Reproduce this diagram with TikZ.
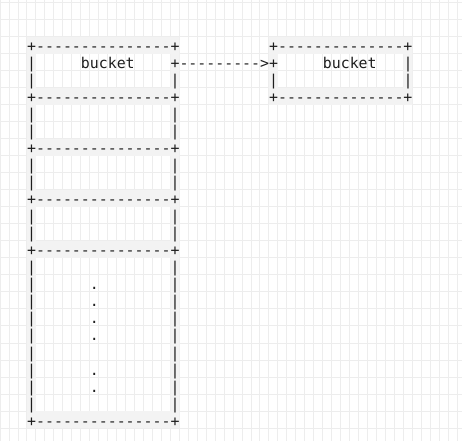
\documentclass[tikz,border=0pt]{standalone}
\usepackage{fontspec}
\newfontfamily\asciimono{DejaVu Sans Mono}
\definecolor{gridline}{HTML}{EDEDED}
\definecolor{cellfill}{HTML}{F3F3F3}
\definecolor{ink}{HTML}{1E1E1E}
\tikzset{
  ascii/.style={anchor=base west, inner sep=0pt, yshift=-15pt, text=ink,
    font=\asciimono\fontsize{14.88}{17}\selectfont},
}
\begin{document}
\begin{tikzpicture}[x=8.96pt, y=-17pt]
            \useasboundingbox (-3.013,-2.176) rectangle (48.549,23.765);
            % character grid
            \foreach \c in {-3,...,48}
              \draw[gridline, line width=1pt] (\c,-2.176) -- (\c,23.765);
            \foreach \r in {-2,...,23}
              \draw[gridline, line width=1pt] (-3.013,\r) -- (48.549,\r);
            % shaded frame cells
            \fill[cellfill, even odd rule] (0,0) rectangle (17,23)
              (1,1) rectangle (16,3) (1,4) rectangle (16,6) (1,7) rectangle (16,9)
              (1,10) rectangle (16,12) (1,13) rectangle (16,22);
            \fill[cellfill, even odd rule] (27,0) rectangle (43,4) (28,1) rectangle (42,3);
            % left column of buckets
            \foreach \r in {0,3,6,9,12,22}
              \node[ascii] (rule\r) at (0,\r) {+---------------+};
            \foreach \r in {1,2,4,5,7,8,10,11,13,14,...,21}
              \node[ascii] (lbar\r) at (0,\r) {|};
            \foreach \r in {2,4,5,7,8,10,11,13,14,...,21}
              \node[ascii] (rbar\r) at (16,\r) {|};
            \node[ascii] (head) at (6,1) {bucket};
            \foreach \r in {14,15,16,17,19,20}
              \node[ascii] (dot\r) at (7,\r) {.};
            % chained bucket
            \node[ascii] (link) at (16,1) {+--------->+};
            \node[ascii] (ntop) at (27,0) {+--------------+};
            \node[ascii] (next) at (33,1) {bucket};
            \node[ascii] (nbar1) at (42,1) {|};
            \node[ascii] (nbarl) at (27,2) {|};
            \node[ascii] (nbarr) at (42,2) {|};
            \node[ascii] (nbot) at (27,3) {+--------------+};
        \end{tikzpicture}
\end{document}
